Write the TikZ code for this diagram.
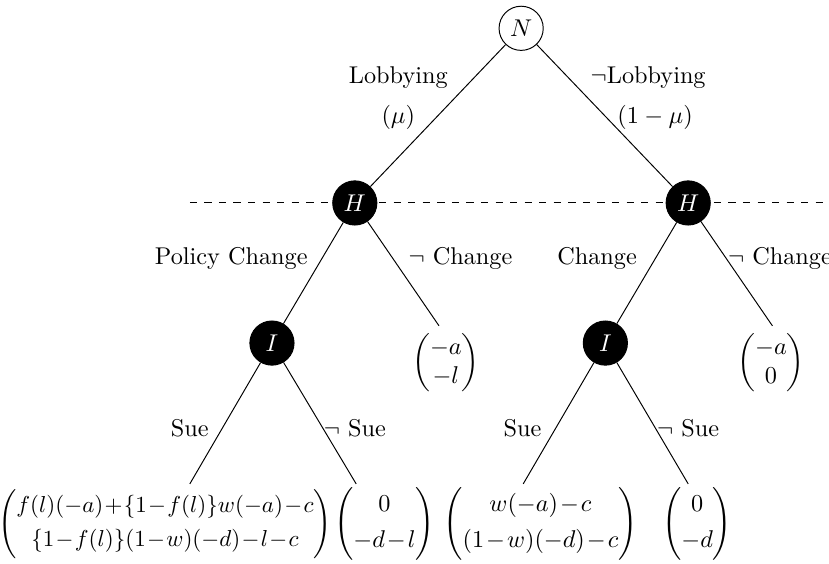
\documentclass[tikz,border=0pt]{standalone}
\usepackage{amsmath}
\begin{document}
\begin{tikzpicture}[
            chance/.style={circle, draw, fill=white, minimum size=6.4mm, inner sep=0pt},
            player/.style={circle, draw, fill=black, text=white, minimum size=6.4mm, inner sep=0pt},
            payoff/.style={inner sep=0pt, execute at begin node={\medmuskip=1.5mu}}
        ]
            \useasboundingbox (0,0) rectangle (12.01,-8.16);
            \draw[dashed] (2.75,-2.94) -- (12.01,-2.94);

            \node[chance] (n) at (7.55,-0.41) {$N$};
            \node[player] (h1) at (5.14,-2.94) {$H$};
            \node[player] (h2) at (9.97,-2.94) {$H$};
            \node[player] (i1) at (3.94,-4.97) {$I$};
            \node[player] (i2) at (8.77,-4.97) {$I$};

            \node[payoff] (p1) at (6.46,-5.26) {$\begin{pmatrix}-a\\-l\end{pmatrix}$};
            \node[payoff] (p2) at (11.17,-5.26) {$\begin{pmatrix}-a\\0\end{pmatrix}$};
            \node[payoff, scale=0.95, transform shape, execute at begin node={\medmuskip=1mu}] (l1) at (2.39,-7.59) {$\begin{pmatrix}f(l)(-a)+\{1-f(l)\}w(-a)-c\\[3pt]\{1-f(l)\}(1-w)(-d)-l-c\end{pmatrix}$};
            \node[payoff] (l2) at (5.57,-7.59) {$\begin{pmatrix}0\\[3pt]-d-l\end{pmatrix}$};
            \node[payoff] (l3) at (7.83,-7.59) {$\begin{pmatrix}w(-a)-c\\[3pt](1-w)(-d)-c\end{pmatrix}$};
            \node[payoff] (l4) at (10.10,-7.59) {$\begin{pmatrix}0\\[3pt]-d\end{pmatrix}$};

            % where the branches stop above the payoffs
            \coordinate (c1) at (6.36,-4.72);
            \coordinate (c2) at (11.19,-4.72);
            \coordinate (s1) at (2.75,-7.01);
            \coordinate (s2) at (5.16,-7.01);
            \coordinate (s3) at (7.58,-7.01);
            \coordinate (s4) at (9.97,-7.01);

            \draw (n)--(h1);
            \draw (n)--(h2);
            \draw (h1)--(i1);
            \draw (h1)--(c1);
            \draw (h2)--(i2);
            \draw (h2)--(c2);
            \draw (i1)--(s1);
            \draw (i1)--(s2);
            \draw (i2)--(s3);
            \draw (i2)--(s4);

            \node at (5.77,-1.12) {Lobbying};
            \node at (5.77,-1.70) {$(\mu)$};
            \node at (9.39,-1.12) {$\neg$Lobbying};
            \node at (9.49,-1.70) {$(1-\mu)$};
            \node at (3.35,-3.75) {Policy Change};
            \node at (6.67,-3.75) {$\neg$ Change};
            \node at (8.65,-3.75) {Change};
            \node at (11.30,-3.75) {$\neg$ Change};
            \node at (2.75,-6.20) {Sue};
            \node at (5.14,-6.20) {$\neg$ Sue};
            \node at (7.57,-6.20) {Sue};
            \node at (9.97,-6.20) {$\neg$ Sue};
        \end{tikzpicture}
\end{document}
